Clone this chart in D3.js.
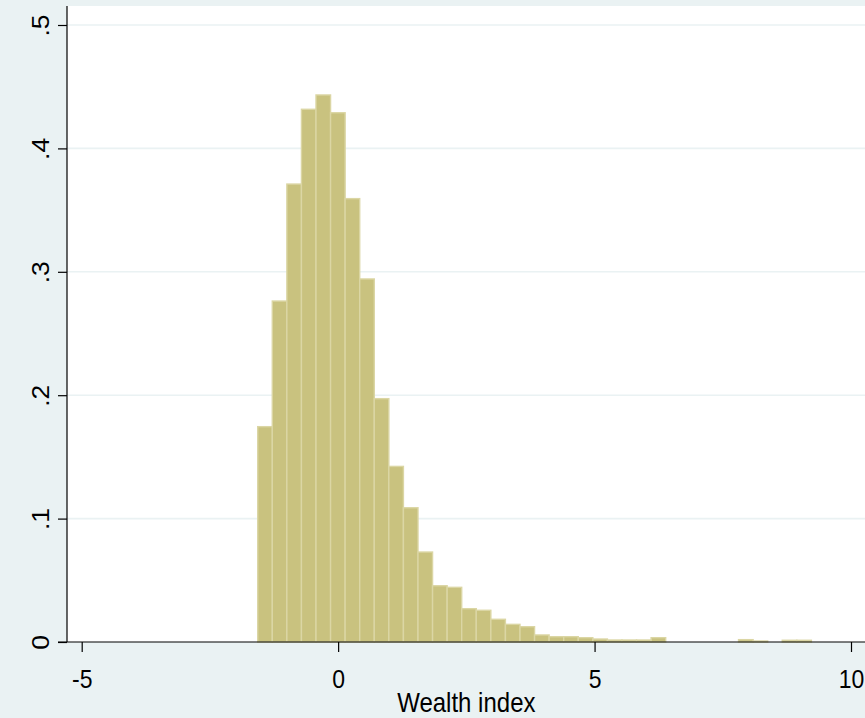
<!DOCTYPE html>
<html>
<head>
<meta charset="utf-8">
<script src="https://cdn.jsdelivr.net/npm/d3@7/dist/d3.min.js"></script>
<style>
  html, body { margin: 0; padding: 0; background: #EAF2F3; }
  svg { display: block; }
  text { font-family: "Liberation Sans", Arial, sans-serif; fill: #000; }
</style>
</head>
<body>
<svg id="chart" width="865" height="718"></svg>
<script>
// Histogram of the wealth index (density scale)
const binStart = -1.568;   // left edge of the first bin
const binWidth = 0.2841;   // common bin width
const density = [
  0.1745, 0.2763, 0.3711, 0.4317, 0.4433, 0.4289, 0.3593, 0.2942,
  0.1972, 0.1423, 0.1088, 0.0729, 0.0456, 0.0443, 0.0270, 0.0257,
  0.0184, 0.0143, 0.0124, 0.0057, 0.0043, 0.0043, 0.0035, 0.0024,
  0.0016, 0.0016, 0.0016, 0.0035, 0, 0, 0, 0,
  0, 0.0019, 0.0008, 0, 0.0014, 0.0014
];
const xTicks = [-5, 0, 5, 10];
const xTickLabels = ["-5", "0", "5", "10"];
const yTicks = [0, 0.1, 0.2, 0.3, 0.4, 0.5];
const yTickLabels = ["0", ".1", ".2", ".3", ".4", ".5"];
const xTitle = "Wealth index";

const plot = { left: 67, right: 865, top: 6, bottom: 642 };
const stretch = 1.15;   // text is drawn slightly tall

const svg = d3.select("#chart");

const x = d3.scaleLinear().domain([-5, 10]).range([81.7, 851]);
const y = d3.scaleLinear().domain([0, 0.5]).range([plot.bottom, 25]);

// plot region
svg.append("rect")
  .attr("x", plot.left).attr("y", plot.top)
  .attr("width", plot.right - plot.left).attr("height", plot.bottom - plot.top)
  .attr("fill", "#fff");

// horizontal grid lines
svg.append("g")
  .selectAll("line")
  .data(yTicks.filter(d => d > 0))
  .join("line")
  .attr("x1", plot.left).attr("x2", plot.right)
  .attr("y1", d => y(d)).attr("y2", d => y(d))
  .attr("stroke", "#EAF2F3").attr("stroke-width", 1.6);

// bars
const bins = density.map((d, i) => ({
  x0: binStart + i * binWidth,
  x1: binStart + (i + 1) * binWidth,
  v: d
})).filter(b => b.v > 0);

svg.append("g")
  .selectAll("rect")
  .data(bins)
  .join("rect")
  .attr("x", d => x(d.x0))
  .attr("width", d => x(d.x1) - x(d.x0))
  .attr("y", d => y(d.v))
  .attr("height", d => y(0) - y(d.v))
  .attr("fill", "#C9C27F")
  .attr("stroke", "#DBD6A4")
  .attr("stroke-width", 1.4);

// y axis
const yAxis = d3.axisLeft(y)
  .tickValues(yTicks)
  .tickSize(9)
  .tickFormat((d, i) => yTickLabels[i]);
const gy = svg.append("g")
  .attr("transform", `translate(${plot.left},0)`)
  .call(yAxis);
gy.select(".domain").remove();
gy.append("line")
  .attr("x1", 0).attr("x2", 0)
  .attr("y1", plot.top).attr("y2", plot.bottom)
  .attr("stroke", "#000").attr("stroke-width", 1.2);
gy.selectAll(".tick line").attr("stroke", "#000").attr("stroke-width", 1.2);
gy.selectAll(".tick text")
  .attr("x", null).attr("dy", null)
  .attr("transform", `translate(-18,0) scale(1,${stretch}) rotate(-90)`)
  .attr("text-anchor", "middle")
  .attr("font-size", 23)
  .attr("fill", "#000");

// x axis
const xAxis = d3.axisBottom(x)
  .tickValues(xTicks)
  .tickSize(10)
  .tickFormat((d, i) => xTickLabels[i]);
const gx = svg.append("g")
  .attr("transform", `translate(0,${plot.bottom})`)
  .call(xAxis);
gx.select(".domain").remove();
gx.append("line")
  .attr("x1", plot.left - 9).attr("x2", plot.right)
  .attr("y1", 0).attr("y2", 0)
  .attr("stroke", "#000").attr("stroke-width", 1.2);
gx.selectAll(".tick line").attr("stroke", "#000").attr("stroke-width", 1.2);
gx.selectAll(".tick text")
  .attr("y", null).attr("dy", null)
  .attr("transform", `translate(0,46) scale(1,${stretch})`)
  .attr("font-size", 23)
  .attr("fill", "#000");

// x axis title
svg.append("text")
  .attr("transform", `translate(${x(2.5)},712) scale(1,${stretch})`)
  .attr("text-anchor", "middle")
  .attr("font-size", 24)
  .text(xTitle);
</script>
</body>
</html>
